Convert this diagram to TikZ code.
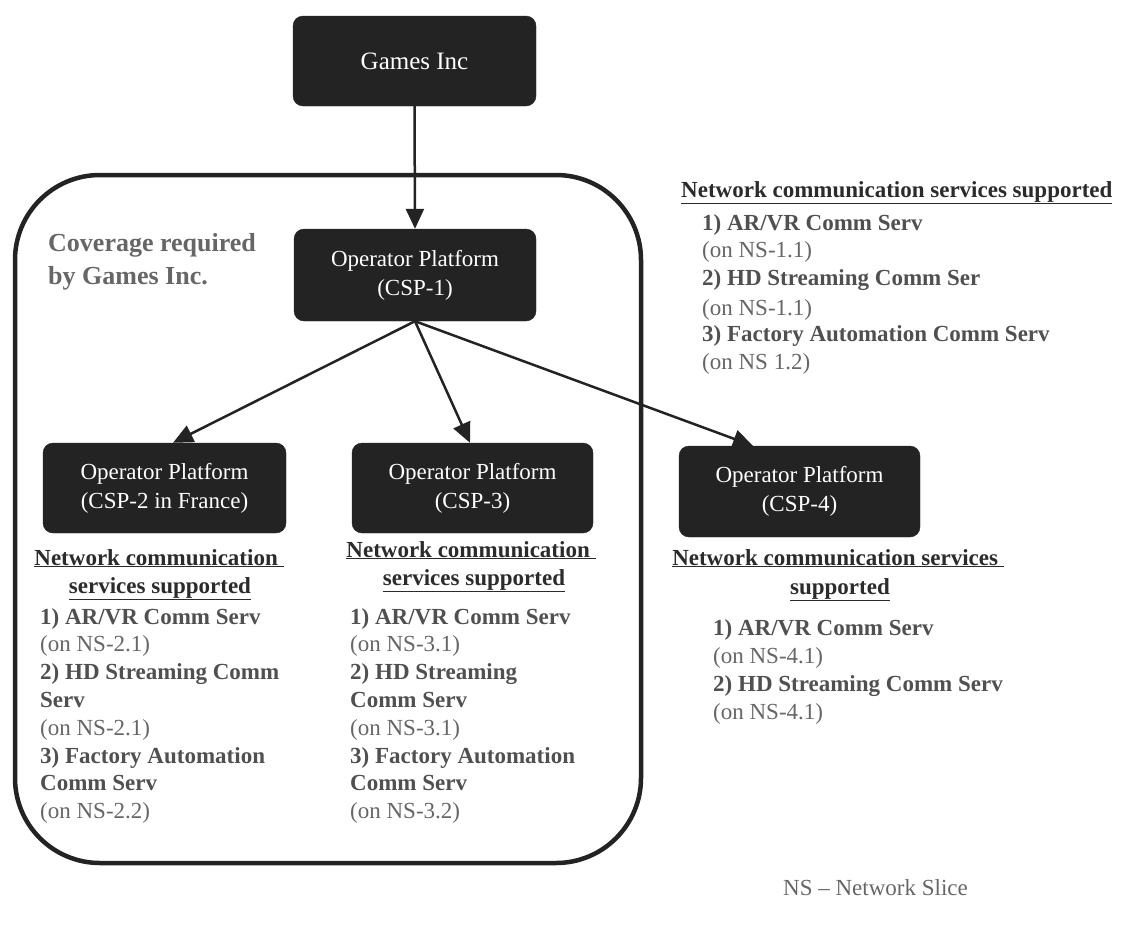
\documentclass[tikz,border=0pt]{standalone}
\usepackage{fontspec}
\setmainfont{Liberation Serif}
\usetikzlibrary{arrows.meta}
\definecolor{boxc}{HTML}{232323}
\definecolor{headc}{HTML}{2B2B2B}
\definecolor{itemc}{HTML}{505050}
\definecolor{onc}{HTML}{666666}
\tikzset{
  opbox/.style={rectangle, rounded corners=10pt, fill=boxc, draw=boxc, text=white,
    align=center, font=\fontsize{23}{29}\selectfont, inner sep=0pt},
  arr/.style={line width=2.5pt, draw=boxc, -{Triangle[length=20pt,width=18pt]}},
  head/.style={anchor=base, text=headc, font=\fontsize{23}{28}\selectfont\bfseries, inner sep=0pt},
  headw/.style={anchor=base west, text=headc, font=\fontsize{23}{28}\selectfont\bfseries, inner sep=0pt},
  item/.style={anchor=base west, text=itemc, font=\fontsize{23}{28}\selectfont\bfseries, inner sep=0pt},
  onl/.style={anchor=base west, text=onc, font=\fontsize{23}{28}\selectfont, inner sep=0pt},
  covtext/.style={anchor=base west, text=onc, font=\fontsize{26}{33}\selectfont\bfseries, inner sep=0pt},
}
\begin{document}
\begin{tikzpicture}[x=1pt,y=-1pt]
\useasboundingbox (0,0) rectangle (1123,927);

% coverage frame
\node[draw=boxc, line width=4.5pt, rounded corners=85pt, minimum width=626pt,
  minimum height=688pt, inner sep=0pt] (cov) at (328,519) {};
\node[covtext] (cov1) at (48,251) {Coverage required};
\node[covtext] (cov2) at (48,284) {by Games Inc.};

% boxes
\node[opbox, minimum width=243pt, minimum height=90pt] (games) at (414.5,61) {\fontsize{25}{29}\selectfont Games Inc};
\node[opbox, minimum width=242pt, minimum height=92pt] (csp1) at (415,275) {Operator Platform\\(CSP-1)};
\node[opbox, minimum width=243pt, minimum height=90pt] (csp2) at (164.5,488) {Operator Platform\\(CSP-2 in France)};
\node[opbox, minimum width=241pt, minimum height=90pt] (csp3) at (472.5,488) {Operator Platform\\(CSP-3)};
\node[opbox, minimum width=241pt, minimum height=91pt] (csp4) at (799.5,491.5) {Operator Platform\\(CSP-4)};

% arrows
\draw[arr] (games.south) -- (csp1.north);
\draw[arr] (csp1.south) -- ([xshift=8.5pt]csp2.north);
\draw[arr] (csp1.south) -- ([xshift=-2.5pt]csp3.north);
\draw[arr] (csp1.south) -- ([xshift=-46.5pt]csp4.north);

% top right list (CSP-1)
\node[headw] (h1) at (681,197) {\underline{Network communication services supported}};
\node[item] (a1) at (702,230) {1) AR/VR Comm Serv};
\node[onl]  (a2) at (702,257) {(on NS-1.1)};
\node[item] (a3) at (702,285) {2) HD Streaming Comm Ser};
\node[onl]  (a4) at (702,315) {(on NS-1.1)};
\node[item] (a5) at (702,341) {3) Factory Automation Comm Serv};
\node[onl]  (a6) at (702,369) {(on NS 1.2)};

% CSP-2 list
\node[head] (h2a) at (159,565) {\underline{Network communication\ }};
\node[head] (h2b) at (160,593) {\underline{services supported}};
\node[item] (b1) at (40,624) {1) AR/VR Comm Serv};
\node[onl]  (b2) at (40,651.8) {(on NS-2.1)};
\node[item] (b3) at (40,679.6) {2) HD Streaming Comm};
\node[item] (b4) at (40,707.4) {Serv};
\node[onl]  (b5) at (40,735.2) {(on NS-2.1)};
\node[item] (b6) at (40,763) {3) Factory Automation};
\node[item] (b7) at (40,790.8) {Comm Serv};
\node[onl]  (b8) at (40,818.6) {(on NS-2.2)};

% CSP-3 list
\node[head] (h3a) at (471,557) {\underline{Network communication\ }};
\node[head] (h3b) at (474,585) {\underline{services supported}};
\node[item] (c1) at (350,624) {1) AR/VR Comm Serv};
\node[onl]  (c2) at (350,651.8) {(on NS-3.1)};
\node[item] (c3) at (350,679.6) {2) HD Streaming};
\node[item] (c4) at (350,707.4) {Comm Serv};
\node[onl]  (c5) at (350,735.2) {(on NS-3.1)};
\node[item] (c6) at (350,763) {3) Factory Automation};
\node[item] (c7) at (350,790.8) {Comm Serv};
\node[onl]  (c8) at (350,818.6) {(on NS-3.2)};

% CSP-4 list
\node[head] (h4a) at (838,565) {\underline{Network communication services\ }};
\node[head] (h4b) at (840,594) {\underline{supported}};
\node[item] (d1) at (713,635) {1) AR/VR Comm Serv};
\node[onl]  (d2) at (713,663) {(on NS-4.1)};
\node[item] (d3) at (713,691) {2) HD Streaming Comm Serv};
\node[onl]  (d4) at (713,719) {(on NS-4.1)};

% legend
\node[onl] (legend) at (783,895) {NS – Network Slice};
\end{tikzpicture}
\end{document}
